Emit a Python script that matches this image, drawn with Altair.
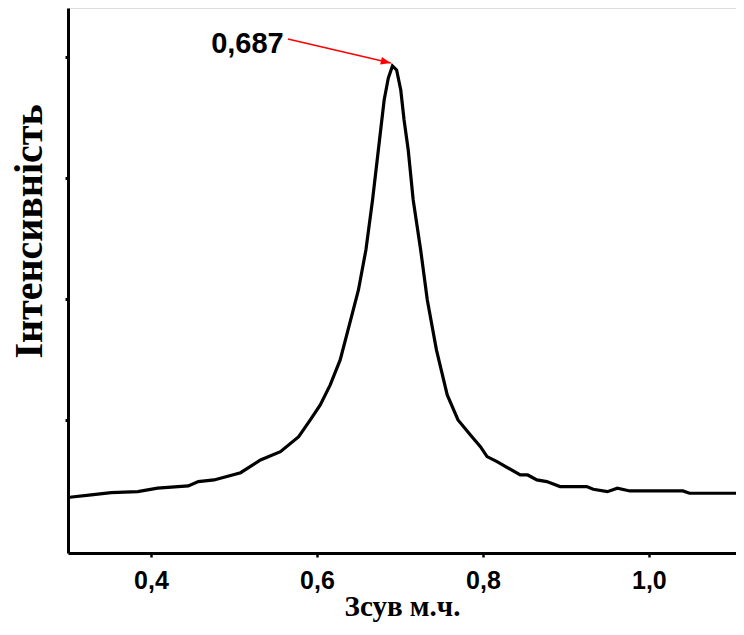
import altair as alt
import pandas as pd

# Raman-like spectrum (shift, intensity in arbitrary units)
shift = [0.302, 0.328, 0.352, 0.384, 0.408, 0.445, 0.457, 0.476, 0.508, 0.532,
         0.556, 0.578, 0.592, 0.604, 0.616, 0.628, 0.640, 0.650, 0.659, 0.667,
         0.674, 0.681, 0.686, 0.691, 0.696, 0.701, 0.705, 0.710, 0.716, 0.725,
         0.733, 0.744, 0.757, 0.770, 0.785, 0.797, 0.805, 0.817, 0.845, 0.854,
         0.865, 0.877, 0.893, 0.925, 0.933, 0.950, 0.962, 0.977, 1.041, 1.049,
         1.105]
intensity = [0.361, 0.380, 0.399, 0.407, 0.436, 0.455, 0.490, 0.504, 0.564, 0.669,
             0.738, 0.862, 1.000, 1.124, 1.289, 1.496, 1.810, 2.074, 2.405, 2.818,
             3.231, 3.645, 3.826, 3.926, 3.893, 3.727, 3.479, 3.231, 2.818, 2.405,
             1.992, 1.579, 1.207, 1.000, 0.876, 0.779, 0.697, 0.655, 0.545, 0.545,
             0.504, 0.490, 0.449, 0.449, 0.427, 0.407, 0.436, 0.413, 0.413, 0.394,
             0.394]

x_ticks = [0.4, 0.6, 0.8, 1.0]
y_ticks = [1, 2, 3, 4]
x_domain = [0.30, 1.105]
y_domain = [-0.1, 4.405]

peak_text = ["0,687"]
text_x = [0.560]
text_y = [4.037]
arrow_x1 = [0.565]
arrow_y1 = [4.149]
arrow_x2 = [0.689]
arrow_y2 = [3.950]

df = pd.DataFrame({"x": shift, "y": intensity})
ann = pd.DataFrame({"label": peak_text, "tx": text_x, "ty": text_y,
                    "x1": arrow_x1, "y1": arrow_y1, "x2": arrow_x2, "y2": arrow_y2})

xs = alt.Scale(domain=x_domain, nice=False, zero=False)
ys = alt.Scale(domain=y_domain, nice=False, zero=False)

x_axis = alt.Axis(values=x_ticks, grid=False,
                  labelExpr="replace(format(datum.value, '.1f'), '.', ',')",
                  domainColor="black", domainWidth=3, tickColor="black",
                  tickWidth=2.5, tickSize=4, labelFont="Liberation Sans",
                  labelFontWeight="bold", labelFontSize=25, labelColor="black",
                  labelPadding=11, title="Зсув м.ч.", titleFont="Liberation Serif",
                  titleFontSize=29, titleFontWeight="bold", titleColor="black",
                  titleX=334, titleY=62, titleAlign="center",
                  titleBaseline="alphabetic")
y_axis = alt.Axis(values=y_ticks, grid=False, labels=False,
                  domainColor="black", domainWidth=3, tickColor="black",
                  tickWidth=3, tickSize=3, title="Інтенсивність",
                  titleFont="Liberation Serif", titleFontSize=40,
                  titleFontWeight="bold", titleColor="black",
                  titleX=-27, titleY=223, titleAngle=270, titleAlign="center",
                  titleBaseline="alphabetic")

line = alt.Chart(df).mark_line(color="black", strokeWidth=3.2).encode(
    x=alt.X("x:Q", scale=xs, axis=x_axis),
    y=alt.Y("y:Q", scale=ys, axis=y_axis),
)

arrow = alt.Chart(ann).mark_rule(color="red", strokeWidth=1.6).encode(
    x=alt.X("x1:Q", scale=xs), y=alt.Y("y1:Q", scale=ys),
    x2="x2:Q", y2="y2:Q",
)

head = alt.Chart(ann).mark_point(
    shape="M0,0L-1,-0.38L-1,0.38Z", filled=True, color="red", opacity=1,
    size=400, angle=13, strokeWidth=0,
).encode(x=alt.X("x2:Q", scale=xs), y=alt.Y("y2:Q", scale=ys))

label = alt.Chart(ann).mark_text(
    align="right", baseline="alphabetic", font="Liberation Sans",
    fontWeight="bold", fontSize=29, color="black",
).encode(x=alt.X("tx:Q", scale=xs), y=alt.Y("ty:Q", scale=ys), text="label:N")

chart = alt.layer(line, arrow, head, label).properties(
    width=668, height=545,
    autosize=alt.AutoSizeParams(type="none"),
    padding={"left": 60, "top": 0, "right": 0, "bottom": 69},
).configure_view(stroke=None).configure(background="white")

chart.save("out.html", embed_options={"renderer": "svg", "actions": False})
